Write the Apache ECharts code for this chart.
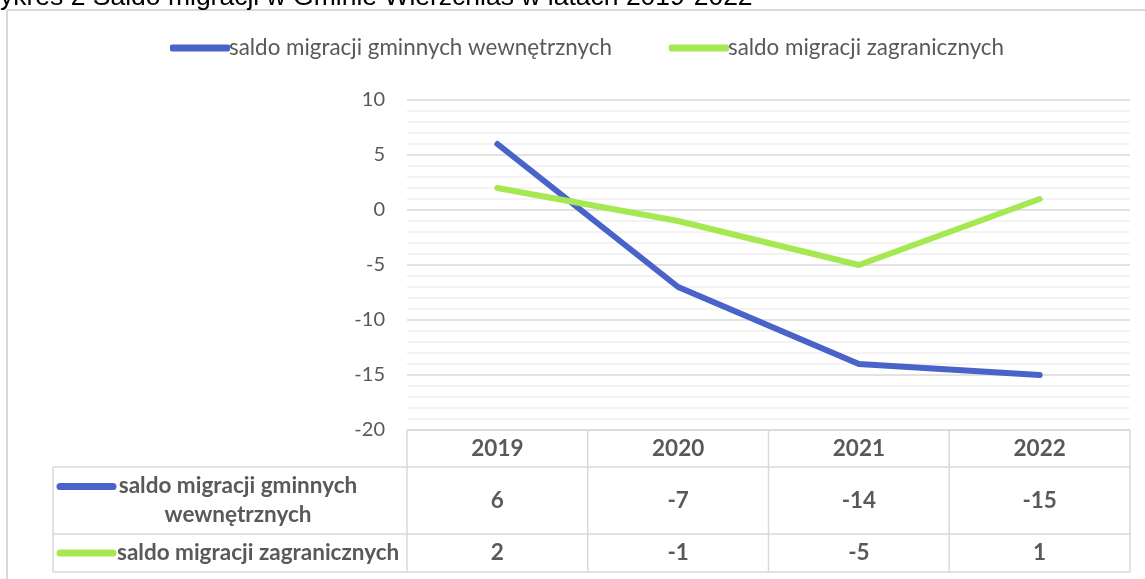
<!DOCTYPE html>
<html>
<head>
<meta charset="utf-8">
<script src="https://cdn.jsdelivr.net/npm/echarts@6/dist/echarts.min.js"></script>
<style>
html,body{margin:0;padding:0;background:#fff;}
#chart{width:1145px;height:579px;}
</style>
</head>
<body>
<div id="chart"></div>
<script>
const titleText = 'ykres 2 Saldo migracji w Gminie Wierzchlas w latach 2019-2022';
const categories = ['2019', '2020', '2021', '2022'];
const seriesNames = ['saldo migracji gminnych wewnętrznych', 'saldo migracji zagranicznych'];
const tableNames = ['saldo migracji gminnych\nwewnętrznych', 'saldo migracji zagranicznych'];
const internalValues = [6, -7, -14, -15];
const foreignValues = [2, -1, -5, 1];
const yTicks = { min: -20, max: 10, interval: 5 };

const colors = ['#4a63c9', '#a6e851'];
const FONT = 'Lato';
const chart = echarts.init(document.getElementById('chart'), null, { renderer: 'canvas' });

const option = {
  animation: false,
  backgroundColor: '#fff',
  legend: {
    top: 32,
    left: 165,
    itemGap: 57,
    itemWidth: 60,
    itemHeight: 7,
    icon: 'roundRect',
    textStyle: { fontFamily: FONT, fontSize: 22.4, color: '#595959', padding: [0, 0, 0, -6] },
    data: seriesNames
  },
  grid: { left: 407, right: 15, top: 100, bottom: 149, containLabel: false },
  xAxis: {
    type: 'category',
    data: categories,
    boundaryGap: true,
    axisLine: { show: false },
    axisTick: { show: false },
    axisLabel: { show: false },
    splitLine: { show: false }
  },
  yAxis: {
    type: 'value',
    min: yTicks.min,
    max: yTicks.max,
    interval: yTicks.interval,
    axisLine: { show: false },
    axisTick: { show: false },
    axisLabel: { fontFamily: FONT, fontSize: 20, color: '#595959', margin: 22 },
    splitLine: { lineStyle: { color: '#d9d9d9', width: 1.5 } },
    minorTick: { show: false, splitNumber: 5 },
    minorSplitLine: { show: true, lineStyle: { color: '#efefef', width: 1.5 } }
  },
  series: [
    {
      name: seriesNames[0], type: 'line', data: internalValues,
      symbol: 'none', color: colors[0],
      lineStyle: { width: 6, cap: 'round', join: 'round', color: colors[0] }
    },
    {
      name: seriesNames[1], type: 'line', data: foreignValues,
      symbol: 'none', color: colors[1],
      lineStyle: { width: 6, cap: 'round', join: 'round', color: colors[1] }
    }
  ]
};
chart.setOption(option);

// Build data table below the plot from the arrays, positioned via axis conversions
const lineColor = '#d9d9d9';
const centers = categories.map(c => chart.convertToPixel({ xAxisIndex: 0 }, c));
const band = centers.length > 1 ? centers[1] - centers[0] : 180;
const xLeft = centers[0] - band / 2;
const xRight = centers[centers.length - 1] + band / 2;
const yTop = chart.convertToPixel({ yAxisIndex: 0 }, yTicks.min);
const yHead = yTop + 37;
const yRow1 = yHead + 67;
const yBottom = yRow1 + 38;
const xRowHead = 53;

const g = [];
function ln(x1, y1, x2, y2) {
  g.push({ type: 'line', shape: { x1, y1, x2, y2 }, style: { stroke: lineColor, lineWidth: 1.5 }, silent: true });
}
// outer frame
g.push({ type: 'line', shape: { x1: 7, y1: 10, x2: 1145, y2: 10 }, style: { stroke: '#d9d9d9', lineWidth: 2 } });
g.push({ type: 'line', shape: { x1: 7, y1: 10, x2: 7, y2: 579 }, style: { stroke: '#d9d9d9', lineWidth: 2 } });
// title (cut at top)
g.push({ type: 'text', x: 0, y: -16, style: { text: titleText, font: '26.5px "Liberation Sans", Arial, sans-serif', fill: '#000' } });

// table lines
ln(xLeft, yTop, xRight, yTop);
ln(xRowHead, yHead, xRight, yHead);
ln(xRowHead, yRow1, xRight, yRow1);
ln(xRowHead, yBottom, xRight, yBottom);
ln(xRowHead, yHead, xRowHead, yBottom);
for (let i = 0; i <= categories.length; i++) {
  const x = xLeft + i * band;
  ln(x, yTop, x, yBottom);
}
const bold = 'bold 22.5px ' + FONT;
// header row
categories.forEach((c, i) => {
  g.push({ type: 'text', x: centers[i], y: (yTop + yHead) / 2, style: { text: c, font: bold, fill: '#595959', textAlign: 'center', textVerticalAlign: 'middle' } });
});
// value rows
const rows = [internalValues, foreignValues];
const rowMid = [(yHead + yRow1) / 2, (yRow1 + yBottom) / 2];
rows.forEach((vals, r) => {
  vals.forEach((v, i) => {
    g.push({ type: 'text', x: centers[i], y: rowMid[r], style: { text: String(v), font: bold, fill: '#595959', textAlign: 'center', textVerticalAlign: 'middle' } });
  });
});
// row headers with legend keys
g.push({ type: 'line', shape: { x1: 60, y1: rowMid[0] - 14, x2: 113, y2: rowMid[0] - 14 }, style: { stroke: colors[0], lineWidth: 7, lineCap: 'round' } });
g.push({ type: 'text', x: 238, y: rowMid[0], style: { text: tableNames[0], font: bold, fill: '#595959', textAlign: 'center', textVerticalAlign: 'middle', lineHeight: 29 } });
g.push({ type: 'line', shape: { x1: 60, y1: rowMid[1], x2: 113, y2: rowMid[1] }, style: { stroke: colors[1], lineWidth: 7, lineCap: 'round' } });
g.push({ type: 'text', x: 117, y: rowMid[1], style: { text: tableNames[1], font: bold, fill: '#595959', textAlign: 'left', textVerticalAlign: 'middle' } });

chart.setOption({ graphic: { elements: g } });
</script>
</body>
</html>
